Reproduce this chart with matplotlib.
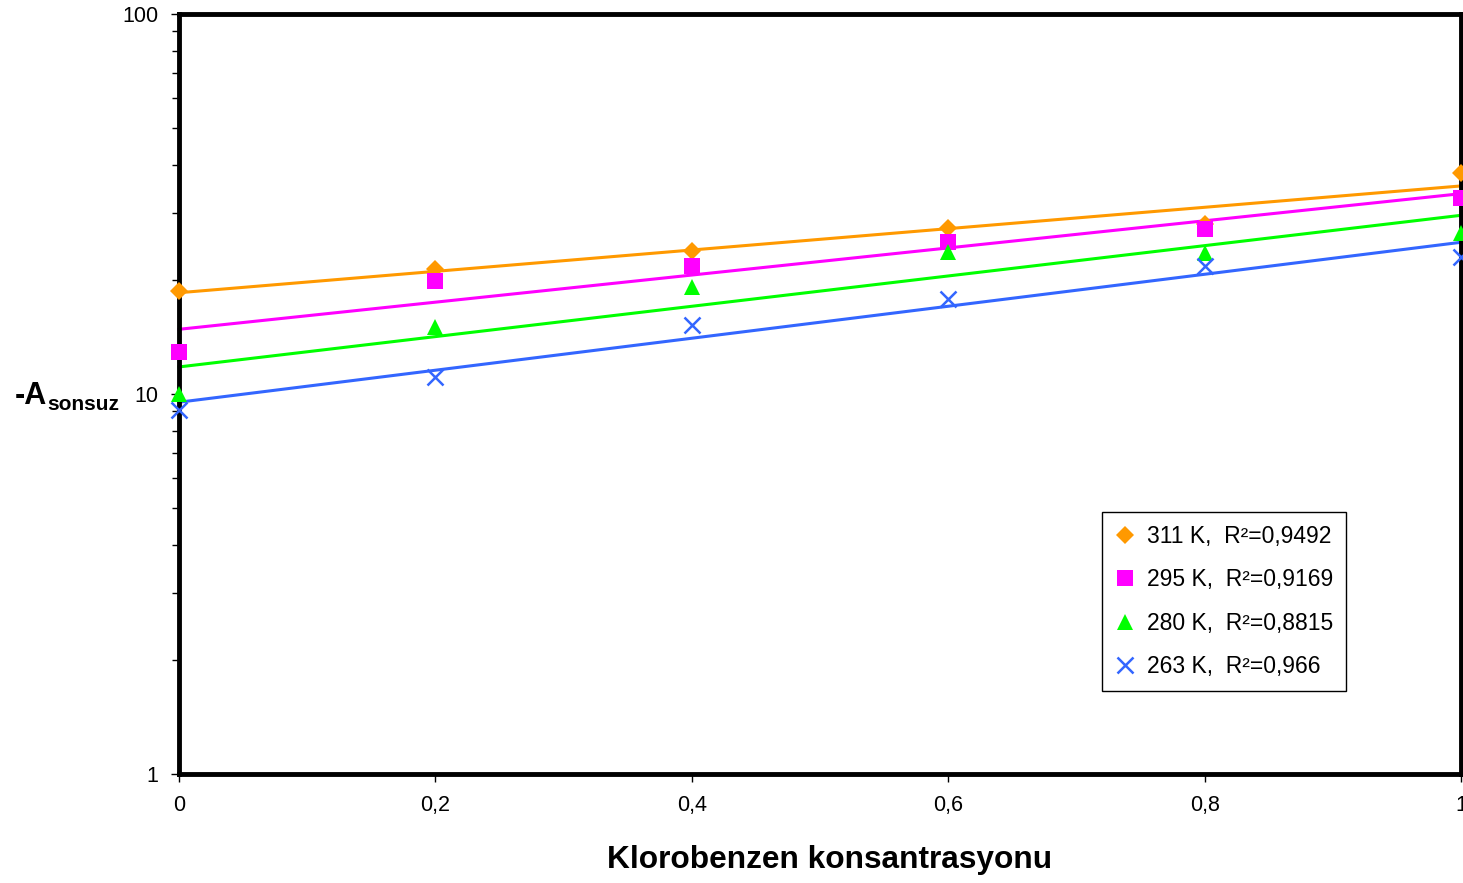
import numpy as np
import matplotlib
matplotlib.use("Agg")
import matplotlib.pyplot as plt
from matplotlib.ticker import FixedLocator, LogLocator, NullFormatter

plt.rcParams["font.family"] = ["Liberation Sans", "DejaVu Sans"]

# Klorobenzen konsantrasyonu vs -A_sonsuz at four temperatures
konsantrasyon = [0, 0.2, 0.4, 0.6, 0.8, 1.0]
a_311 = [18.7, 21.3, 23.8, 27.3, 28.0, 38.2]
a_295 = [12.9, 19.8, 21.7, 25.1, 27.1, 32.8]
a_280 = [10.0, 15.0, 19.1, 23.6, 23.5, 26.5]
a_263 = [9.1, 11.1, 15.2, 17.8, 21.7, 22.9]

labels = ["311 K,  R²=0,9492", "295 K,  R²=0,9169",
          "280 K,  R²=0,8815", "263 K,  R²=0,966"]
x_ticks = [0, 0.2, 0.4, 0.6, 0.8, 1.0]
x_tick_labels = ["0", "0,2", "0,4", "0,6", "0,8", "1"]

series = [a_311, a_295, a_280, a_263]
colors = ["#FF9900", "#FF00FF", "#00FF00", "#3366FF"]
markers = ["D", "s", "^", "x"]
sizes = [9, 11, 11, 11]

fig = plt.figure(figsize=(14.63, 8.83), dpi=100)
ax = fig.add_axes([179 / 1463, 109 / 883, 1282 / 1463, 760 / 883])

x = np.array(konsantrasyon)
xx = np.linspace(0, 1, 100)
handles = []
for vals, c, m, s, lab in zip(series, colors, markers, sizes, labels):
    # exponential trendline: straight line through ln(y)
    b, a = np.polyfit(x, np.log(vals), 1)
    ax.plot(xx, np.exp(a + b * xx), color=c, lw=2.2, zorder=2, clip_on=False)
    h, = ax.plot(x, vals, linestyle="none", marker=m, color=c, ms=s,
                 mew=1.8 if m == "x" else 0, clip_on=False, zorder=3, label=lab)
    handles.append(h)

ax.set_yscale("log")
ax.set_ylim(1, 100)
ax.set_xlim(0, 1)
ax.yaxis.set_major_locator(FixedLocator([1, 10, 100]))
ax.yaxis.set_minor_locator(LogLocator(base=10, subs=np.arange(2, 10)))
ax.yaxis.set_minor_formatter(NullFormatter())
ax.set_yticklabels(["1", "10", "100"])
ax.set_xticks(x_ticks)
ax.set_xticklabels(x_tick_labels)

for sp in ax.spines.values():
    sp.set_linewidth(3.5)
ax.tick_params(axis="both", which="major", length=6, width=1, labelsize=15.5,
               direction="out")
ax.tick_params(axis="y", which="minor", length=5, width=1, direction="out")
ax.tick_params(axis="y", pad=9)
ax.tick_params(axis="x", pad=9)

ax.set_xlabel("Klorobenzen konsantrasyonu", fontsize=22.8, fontweight="bold")
ax.xaxis.set_label_coords((830 - 179) / 1282, -(860 - 774) / 760)
ax.xaxis.label.set_va("center")
fig.text(15 / 1463, (883 - 404) / 883, "-A", fontsize=22, fontweight="bold",
         ha="left", va="baseline")
fig.text(47 / 1463, (883 - 410) / 883, "sonsuz", fontsize=15, fontweight="bold",
         ha="left", va="baseline")

leg = ax.legend(handles=handles, loc="lower left",
                bbox_to_anchor=((1102 - 179) / 1282, (774 - 691) / 760),
                fontsize=16.5, frameon=True, fancybox=False, edgecolor="black",
                framealpha=1, labelspacing=0.9, handlelength=0.9,
                handletextpad=0.5, borderpad=0.55, borderaxespad=0)
leg.get_frame().set_linewidth(1)

fig.savefig("out.png", dpi=100)
